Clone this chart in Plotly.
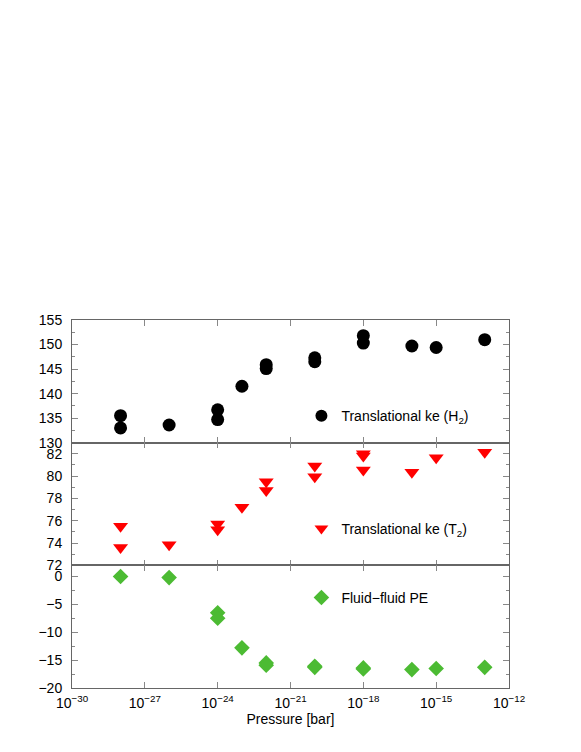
import plotly.graph_objects as go
from plotly.subplots import make_subplots

# pressures [bar] (same grid for all three series)
pressure = [1e-28, 1e-28, 1e-26, 1e-24, 1e-24, 1e-23, 1e-22, 1e-22,
            1e-20, 1e-20, 1e-18, 1e-18, 1e-16, 1e-15, 1e-13]
ke_h2 = [135.5, 133.0, 133.6, 136.7, 134.7, 141.5, 145.9, 145.1,
         147.3, 146.5, 151.8, 150.3, 149.7, 149.4, 151.0]

pressure_t2 = [1e-28, 1e-28, 1e-26, 1e-24, 1e-24, 1e-23, 1e-22, 1e-22,
               1e-20, 1e-20, 1e-18, 1e-18, 1e-18, 1e-16, 1e-15, 1e-13]
ke_t2 = [75.5, 73.6, 73.85, 75.7, 75.2, 77.2, 79.5, 78.7,
         80.9, 79.95, 82.0, 81.8, 80.55, 80.35, 81.65, 82.15]

pressure_pe = [1e-28, 1e-26, 1e-24, 1e-24, 1e-23, 1e-22, 1e-22,
               1e-20, 1e-20, 1e-18, 1e-18, 1e-16, 1e-15, 1e-13]
fluid_pe = [0.0, -0.2, -6.5, -7.5, -12.8, -15.5, -15.9,
            -16.1, -16.3, -16.4, -16.6, -16.7, -16.5, -16.3]

xtick_vals = [1e-30, 1e-27, 1e-24, 1e-21, 1e-18, 1e-15, 1e-12]
xtick_text = ['10<sup>\u221230</sup>', '10<sup>\u221227</sup>', '10<sup>\u221224</sup>',
              '10<sup>\u221221</sup>', '10<sup>\u221218</sup>', '10<sup>\u221215</sup>',
              '10<sup>\u221212</sup>']

FONT = 'Liberation Sans, Arial, sans-serif'
AX = '#666666'
TK = '#888888'

fig = make_subplots(rows=3, cols=1, shared_xaxes=True, vertical_spacing=0)

fig.add_trace(go.Scatter(x=pressure, y=ke_h2, mode='markers',
                         name='Translational ke (H<sub>2</sub>)',
                         marker=dict(symbol='circle', size=13, color='black'),
                         showlegend=True, legend='legend'), row=1, col=1)
fig.add_trace(go.Scatter(x=pressure_t2, y=ke_t2, mode='markers',
                         name='Translational ke (T<sub>2</sub>)',
                         marker=dict(symbol='triangle-down', size=13, color='#ff0000'),
                         showlegend=True, legend='legend2'), row=2, col=1)
fig.add_trace(go.Scatter(x=pressure_pe, y=fluid_pe, mode='markers',
                         name='Fluid\u2212fluid PE',
                         marker=dict(symbol='diamond', size=12, color='#4cbb33'),
                         showlegend=True, legend='legend3'), row=3, col=1)

xcommon = dict(type='log', range=[-30, -12], tickvals=xtick_vals, ticktext=xtick_text,
               ticks='inside', ticklen=6, tickcolor=TK, showline=True, linecolor=AX,
               linewidth=0.6, mirror='allticks', showgrid=False, zeroline=False)
for r in (1, 2, 3):
    fig.update_xaxes(row=r, col=1, **xcommon)
fig.update_xaxes(row=3, col=1, title=dict(text='Pressure [bar]', font=dict(size=14), standoff=2),
                 tickfont=dict(size=14), ticklabelstandoff=2)

ycommon = dict(ticks='inside', ticklen=6, tickcolor=TK, showline=True, linecolor=AX,
               linewidth=1, mirror='allticks', showgrid=False, zeroline=False,
               tickfont=dict(size=14), ticklabelstandoff=6)
fig.update_yaxes(row=1, col=1, range=[130, 155], dtick=5, tick0=130,
                 minor=dict(dtick=2.5, ticks='inside', ticklen=3, tickcolor=TK), **ycommon)
fig.update_yaxes(row=2, col=1, range=[72, 83], dtick=2, tick0=72,
                 minor=dict(dtick=1, ticks='inside', ticklen=3, tickcolor=TK), **ycommon)
fig.update_yaxes(row=3, col=1, range=[-20, 2], dtick=5, tick0=-20,
                 minor=dict(dtick=2.5, ticks='inside', ticklen=3, tickcolor=TK), **ycommon)

leg = dict(xanchor='left', yanchor='middle', bgcolor='rgba(0,0,0,0)',
           font=dict(size=14, family=FONT), itemsizing='constant')
fig.update_layout(
    width=581, height=752,
    margin=dict(l=64, r=80, t=312, b=72),
    paper_bgcolor='white', plot_bgcolor='white',
    font=dict(family=FONT, size=14, color='black'),
    showlegend=True,
    legend=dict(x=0.525, y=0.739, **leg),
    legend2=dict(x=0.525, y=0.432, **leg),
    legend3=dict(x=0.525, y=0.245, **leg),
)

fig.write_html('out.html')
